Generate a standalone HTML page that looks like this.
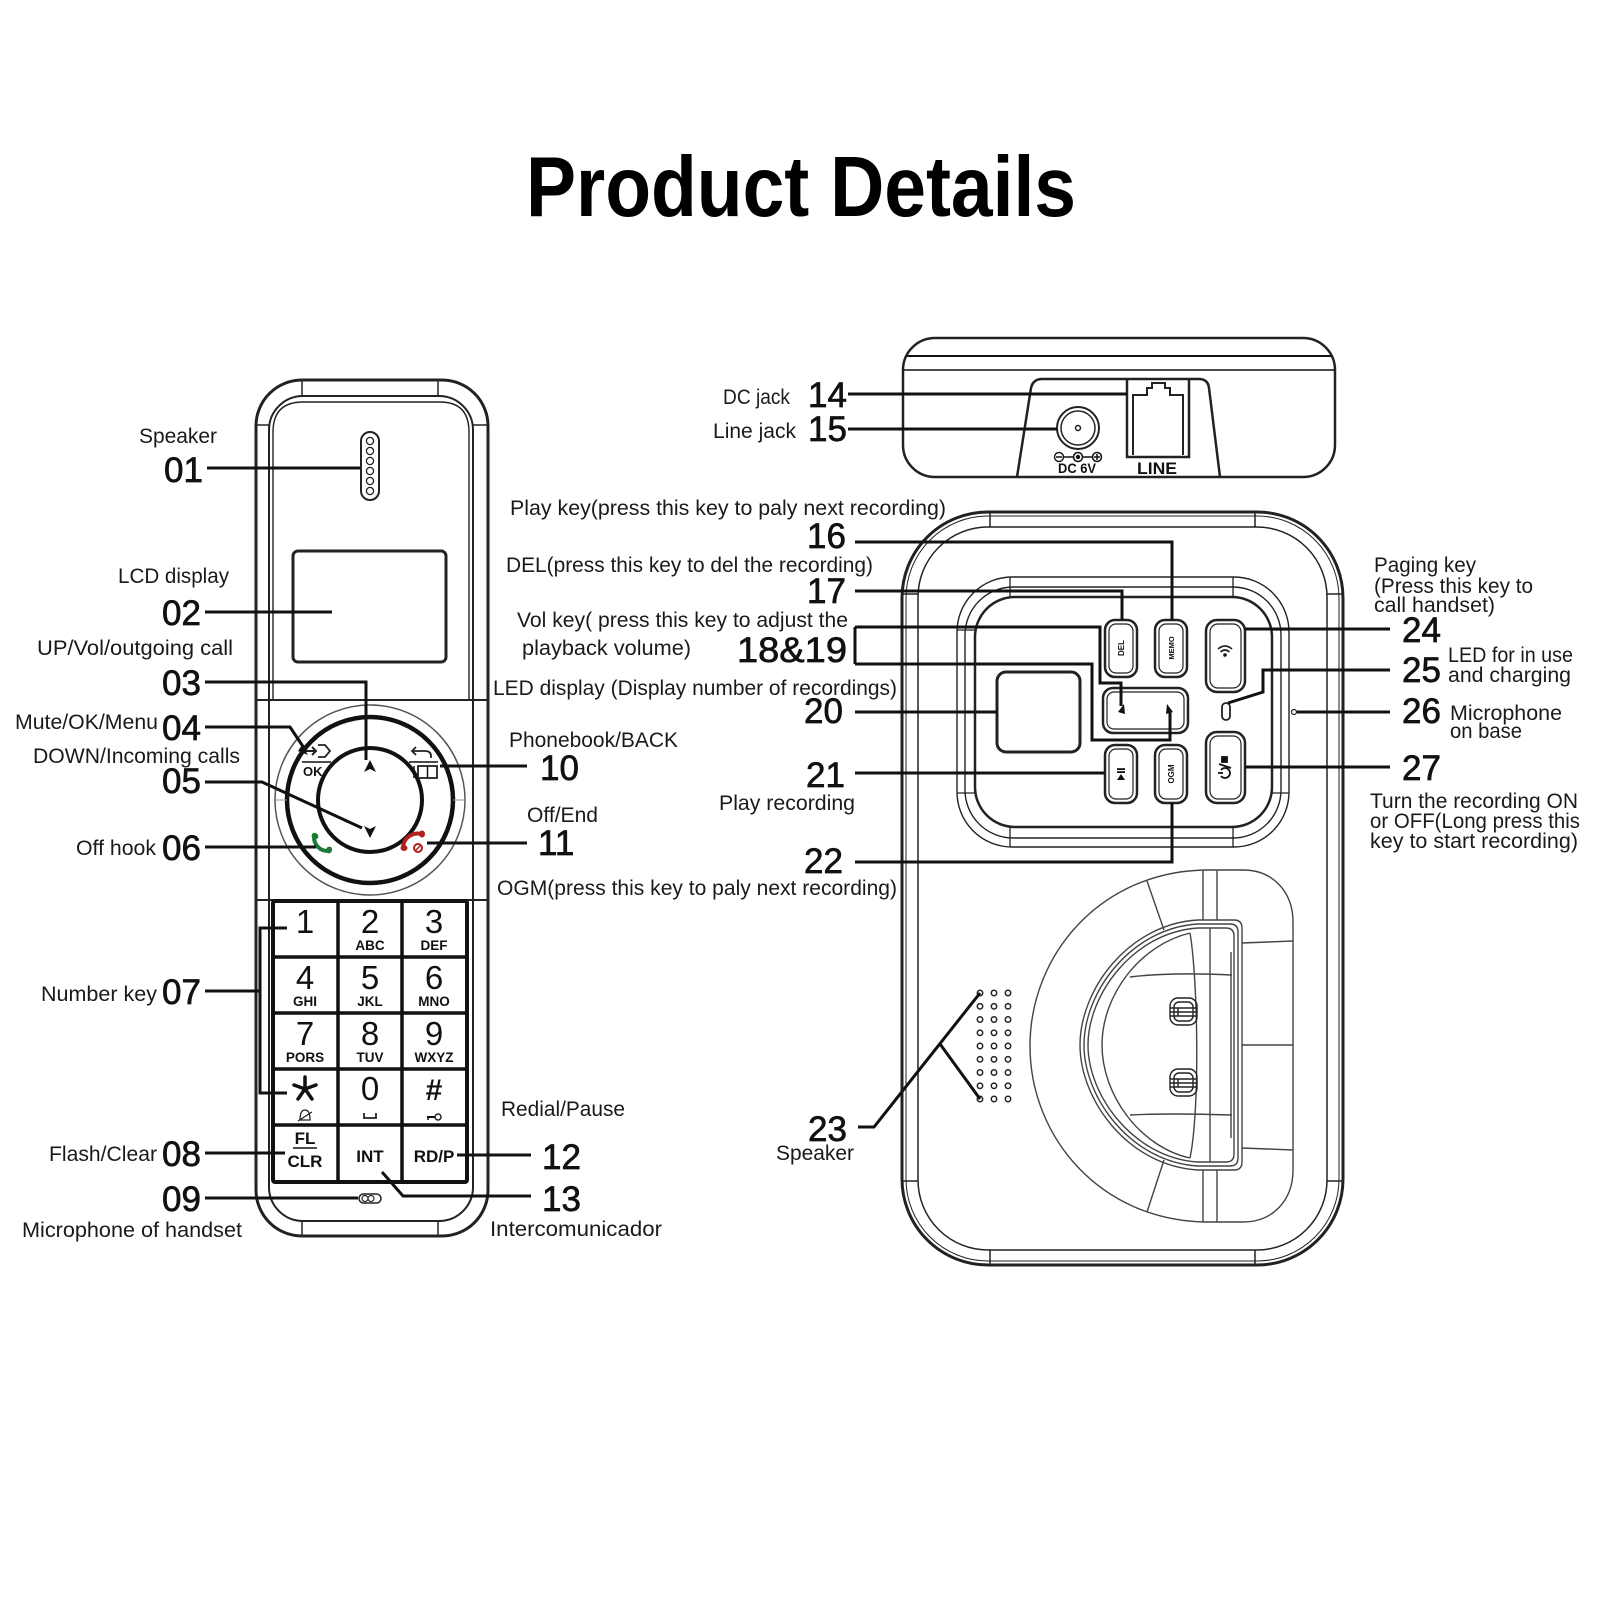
<!DOCTYPE html>
<html><head><meta charset="utf-8">
<style>
html,body{margin:0;padding:0;background:#fff;}
svg{display:block}
text{font-family:"Liberation Sans",Arial,sans-serif;}
.lb{font-size:21px;fill:#1a1a1a;}
.nm{font-size:35px;fill:#111;stroke:#111;stroke-width:0.7px;}
.ln{stroke:#111;stroke-width:3;fill:none;}
.o{fill:none;stroke:#222;}
.t{fill:none;stroke:#444;stroke-width:1.4;}
.kd{font-size:33px;fill:#111;text-anchor:middle;}
.kl{font-size:13.5px;font-weight:bold;fill:#111;text-anchor:middle;}
.kb{font-size:17px;font-weight:bold;fill:#111;text-anchor:middle;}
</style></head><body>
<svg width="1600" height="1600" viewBox="0 0 1600 1600" xmlns="http://www.w3.org/2000/svg">
<rect width="1600" height="1600" fill="#fff"/>

<!-- TITLE -->
<text x="526" y="216" font-size="85" font-weight="bold" fill="#000" textLength="550" lengthAdjust="spacingAndGlyphs">Product Details</text>

<!-- ================= HANDSET ================= -->
<rect x="256" y="380" width="232" height="856" rx="46" class="o" stroke-width="3"/>
<rect x="269" y="396" width="204" height="825" rx="34" class="o" stroke-width="2"/>
<path d="M273,700 V432 Q273,402 303,402 H440 Q469,402 469,432 V700" class="o" stroke-width="1.4"/>
<line x1="302" y1="380" x2="302" y2="396" class="o" stroke-width="1.5"/>
<line x1="438" y1="380" x2="438" y2="396" class="o" stroke-width="1.5"/>
<line x1="256" y1="425" x2="269" y2="425" class="o" stroke-width="1.5"/>
<line x1="473" y1="425" x2="488" y2="425" class="o" stroke-width="1.5"/>
<line x1="302" y1="1221" x2="302" y2="1236" class="o" stroke-width="1.5"/>
<line x1="438" y1="1221" x2="438" y2="1236" class="o" stroke-width="1.5"/>
<line x1="256" y1="700" x2="488" y2="700" class="o" stroke-width="2"/>
<line x1="256" y1="900" x2="488" y2="900" class="o" stroke-width="2"/>

<!-- speaker slot -->
<rect x="361" y="432" width="18" height="68" rx="9" class="o" stroke-width="2"/>
<g class="o" stroke-width="1.3">
<circle cx="370" cy="441" r="3.6"/><circle cx="370" cy="451" r="3.6"/><circle cx="370" cy="461" r="3.6"/>
<circle cx="370" cy="471" r="3.6"/><circle cx="370" cy="481" r="3.6"/><circle cx="370" cy="491" r="3.6"/>
</g>

<!-- LCD -->
<rect x="293" y="551" width="153" height="111" rx="5" class="o" stroke="#111" stroke-width="3"/>

<!-- Nav -->
<circle cx="370" cy="800" r="95" fill="none" stroke="#555" stroke-width="1.5"/>
<circle cx="370" cy="800" r="83" fill="none" stroke="#111" stroke-width="4.5"/>
<circle cx="370" cy="800" r="52" fill="none" stroke="#111" stroke-width="4"/>
<line x1="276" y1="800" x2="287" y2="800" stroke="#999" stroke-width="1"/>
<line x1="453" y1="800" x2="464" y2="800" stroke="#999" stroke-width="1"/>
<path d="M370,760 L376,772 L370,769 L364,772 Z" fill="#111"/>
<path d="M370,838 L376,826 L370,829 L364,826 Z" fill="#111"/>
<!-- OK icon -->
<path d="M304,751 H316 M312,747 L316,751 L312,755" class="o" stroke="#111" stroke-width="2"/>
<path d="M318,745 H325 L330,751 L325,757 H318" class="o" stroke="#111" stroke-width="1.8"/>
<line x1="302" y1="762" x2="331" y2="762" stroke="#111" stroke-width="1.5"/>
<text x="303" y="776" font-size="13" font-weight="bold" fill="#111">OK</text>
<!-- back / book icon -->
<path d="M416,747 L412,751 L416,755 M412,751 H425 Q431,751 431,756 V758" class="o" stroke="#111" stroke-width="1.8"/>
<line x1="409" y1="762" x2="438" y2="762" stroke="#111" stroke-width="1.5"/>
<rect x="418" y="766" width="19" height="12" class="o" stroke="#111" stroke-width="1.8"/>
<line x1="427.5" y1="766" x2="427.5" y2="778" stroke="#111" stroke-width="1.5"/>
<line x1="414" y1="766" x2="414" y2="778" stroke="#111" stroke-width="1.5"/>
<!-- green phone -->
<g transform="translate(322,842)">
<path d="M-8,-5 C-8,3 -2,9 6,9" stroke="#1d7a35" stroke-width="4" fill="none" stroke-linecap="round"/>
<ellipse cx="-7" cy="-6" rx="3.5" ry="3" fill="#1d7a35" transform="rotate(30 -7 -6)"/>
<ellipse cx="7" cy="8" rx="3" ry="3.5" fill="#1d7a35" transform="rotate(30 7 8)"/>
</g>
<!-- red phone -->
<g transform="translate(413,841)">
<path d="M-10,6 C-9,-4 0,-9 9,-7" stroke="#b0201c" stroke-width="4" fill="none" stroke-linecap="round"/>
<ellipse cx="-9" cy="7" rx="3.5" ry="3" fill="#b0201c"/>
<ellipse cx="9" cy="-7" rx="3" ry="3.5" fill="#b0201c"/>
<circle cx="5" cy="7" r="4" fill="#fff" stroke="#b0201c" stroke-width="2"/>
<line x1="3" y1="9" x2="7" y2="5" stroke="#b0201c" stroke-width="1.5"/>
</g>

<!-- keypad -->
<rect x="273" y="901" width="194" height="281" fill="#fff" stroke="#111" stroke-width="4" rx="2"/>
<g stroke="#111" stroke-width="3.5">
<line x1="338" y1="901" x2="338" y2="1182"/><line x1="402" y1="901" x2="402" y2="1182"/>
<line x1="273" y1="957" x2="467" y2="957"/><line x1="273" y1="1013" x2="467" y2="1013"/>
<line x1="273" y1="1069" x2="467" y2="1069"/><line x1="273" y1="1125" x2="467" y2="1125"/>
</g>
<text class="kd" x="305" y="933">1</text>
<text class="kd" x="370" y="933">2</text><text class="kl" x="370" y="950">ABC</text>
<text class="kd" x="434" y="933">3</text><text class="kl" x="434" y="950">DEF</text>
<text class="kd" x="305" y="989">4</text><text class="kl" x="305" y="1006">GHI</text>
<text class="kd" x="370" y="989">5</text><text class="kl" x="370" y="1006">JKL</text>
<text class="kd" x="434" y="989">6</text><text class="kl" x="434" y="1006">MNO</text>
<text class="kd" x="305" y="1045">7</text><text class="kl" x="305" y="1062">PORS</text>
<text class="kd" x="370" y="1045">8</text><text class="kl" x="370" y="1062">TUV</text>
<text class="kd" x="434" y="1045">9</text><text class="kl" x="434" y="1062">WXYZ</text>
<g stroke="#111" stroke-width="3.5" stroke-linecap="round">
<line x1="305" y1="1089" x2="305" y2="1077"/>
<line x1="305" y1="1089" x2="316" y2="1085"/>
<line x1="305" y1="1089" x2="294" y2="1085"/>
<line x1="305" y1="1089" x2="312" y2="1099"/>
<line x1="305" y1="1089" x2="298" y2="1099"/>
</g>
<path d="M300,1120 Q300,1110 305,1110 Q310,1110 310,1120 Z M298,1121 L312,1112" class="o" stroke="#111" stroke-width="1.3"/>
<text class="kd" x="370" y="1100">0</text>
<path d="M364,1113 V1118 H376 V1113" class="o" stroke="#111" stroke-width="1.8"/>
<text x="434" y="1100" font-size="30" font-weight="bold" fill="#111" text-anchor="middle">#</text>
<line x1="427" y1="1117" x2="435" y2="1117" stroke="#111" stroke-width="2"/>
<line x1="428" y1="1117" x2="428" y2="1120" stroke="#111" stroke-width="1.5"/>
<circle cx="438" cy="1117" r="3" class="o" stroke="#111" stroke-width="1.5"/>
<text class="kb" x="305" y="1144" font-size="16">FL</text>
<line x1="293" y1="1148" x2="317" y2="1148" stroke="#111" stroke-width="1.5"/>
<text class="kb" x="305" y="1167" font-size="16">CLR</text>
<text class="kb" x="370" y="1162">INT</text>
<text class="kb" x="434" y="1162">RD/P</text>

<!-- mic handset -->
<rect x="359" y="1194" width="22" height="9" rx="4.5" class="o" stroke="#111" stroke-width="1.5"/>
<circle cx="365" cy="1198.5" r="3" class="o" stroke="#111" stroke-width="1.2"/>
<circle cx="371" cy="1198.5" r="3" class="o" stroke="#111" stroke-width="1.2"/>

<!-- handset leader lines -->
<g class="ln">
<polyline points="207,468 360,468"/>
<polyline points="205,612 332,612"/>
<polyline points="205,682 366,682 366,760"/>
<polyline points="205,727 290,727 306,751"/>
<polyline points="205,782 262,782 362,828"/>
<polyline points="205,847 316,847"/>
<polyline points="205,991 260,991"/>
<polyline points="287,928 260,928 260,1093 287,1093"/>
<polyline points="205,1153 285,1153"/>
<polyline points="205,1198 358,1198"/>
<polyline points="440,766 527,766"/>
<polyline points="427,843 527,843"/>
<polyline points="457,1155 531,1155"/>
<polyline points="382,1172 403,1196 531,1196"/>
</g>
<path d="M302,745 L308,755 L298,751 Z" fill="#111"/>

<!-- handset labels -->
<text class="lb" x="139" y="443" textLength="78" lengthAdjust="spacingAndGlyphs">Speaker</text>
<text class="nm" x="164" y="482">01</text>
<text class="lb" x="118" y="583" textLength="111" lengthAdjust="spacingAndGlyphs">LCD display</text>
<text class="nm" x="162" y="625">02</text>
<text class="lb" x="37" y="655" textLength="196" lengthAdjust="spacingAndGlyphs">UP/Vol/outgoing call</text>
<text class="nm" x="162" y="695">03</text>
<text class="lb" x="15" y="729" textLength="143" lengthAdjust="spacingAndGlyphs">Mute/OK/Menu</text>
<text class="nm" x="162" y="740">04</text>
<text class="lb" x="33" y="763" textLength="207" lengthAdjust="spacingAndGlyphs">DOWN/Incoming calls</text>
<text class="nm" x="162" y="793">05</text>
<text class="lb" x="76" y="855" textLength="80" lengthAdjust="spacingAndGlyphs">Off hook</text>
<text class="nm" x="162" y="860">06</text>
<text class="lb" x="41" y="1001" textLength="116" lengthAdjust="spacingAndGlyphs">Number key</text>
<text class="nm" x="162" y="1004">07</text>
<text class="lb" x="49" y="1161" textLength="108" lengthAdjust="spacingAndGlyphs">Flash/Clear</text>
<text class="nm" x="162" y="1166">08</text>
<text class="nm" x="162" y="1211">09</text>
<text class="lb" x="22" y="1237" textLength="220" lengthAdjust="spacingAndGlyphs">Microphone of handset</text>
<text class="lb" x="509" y="747" textLength="169" lengthAdjust="spacingAndGlyphs">Phonebook/BACK</text>
<text class="nm" x="540" y="780">10</text>
<text class="lb" x="527" y="822" textLength="71" lengthAdjust="spacingAndGlyphs">Off/End</text>
<text class="nm" x="538" y="855">11</text>
<text class="lb" x="501" y="1116" textLength="124" lengthAdjust="spacingAndGlyphs">Redial/Pause</text>
<text class="nm" x="542" y="1169">12</text>
<text class="nm" x="542" y="1211">13</text>
<text class="lb" x="490" y="1236" textLength="172" lengthAdjust="spacingAndGlyphs">Intercomunicador</text>

<!-- ================= BASE TOP (rear) ================= -->
<rect x="903" y="338" width="432" height="139" rx="32" class="o" stroke="#111" stroke-width="2.5"/>
<line x1="907" y1="356" x2="1331" y2="356" stroke="#111" stroke-width="2"/>
<line x1="903" y1="370" x2="1335" y2="370" stroke="#111" stroke-width="1.5"/>
<path d="M1017,477 L1031,388 Q1033,379 1042,379 L1199,379 Q1208,379 1209,388 L1220,477" class="o" stroke="#111" stroke-width="2.5"/>
<circle cx="1078" cy="428" r="21" class="o" stroke="#111" stroke-width="2"/>
<circle cx="1078" cy="428" r="17" class="o" stroke="#111" stroke-width="1.5"/>
<circle cx="1078" cy="428" r="2.5" class="o" stroke="#111" stroke-width="1.5"/>
<circle cx="1059" cy="457" r="4.5" class="o" stroke="#111" stroke-width="1.5"/>
<line x1="1056" y1="457" x2="1062" y2="457" stroke="#111" stroke-width="1.5"/>
<line x1="1063" y1="457" x2="1093" y2="457" stroke="#111" stroke-width="1.5"/>
<circle cx="1078" cy="457" r="4.5" fill="#fff" stroke="#111" stroke-width="1.5"/>
<circle cx="1078" cy="457" r="2.2" fill="#111"/>
<circle cx="1097" cy="457" r="4.5" fill="#fff" stroke="#111" stroke-width="1.5"/>
<line x1="1094" y1="457" x2="1100" y2="457" stroke="#111" stroke-width="1.5"/>
<line x1="1097" y1="454" x2="1097" y2="460" stroke="#111" stroke-width="1.5"/>
<text x="1058" y="473" font-size="14" font-weight="bold" fill="#111" textLength="38" lengthAdjust="spacingAndGlyphs">DC 6V</text>
<path d="M1127,380 V457 H1189 V380" class="o" stroke="#111" stroke-width="2.5"/>
<path d="M1133,455 V395 H1147 V388 H1152 V383 H1165 V388 H1170 V395 H1183 V455" class="o" stroke="#111" stroke-width="2"/>
<text x="1137" y="474" font-size="17" font-weight="bold" fill="#111" textLength="40" lengthAdjust="spacingAndGlyphs">LINE</text>

<!-- ================= BASE BODY ================= -->
<rect x="902" y="512" width="441" height="753" rx="86" class="o" stroke="#111" stroke-width="3"/>
<rect x="906" y="516" width="433" height="745" rx="82" class="o" stroke-width="1"/>
<rect x="918" y="527" width="409" height="723" rx="70" class="o" stroke-width="1.5"/>
<g class="o" stroke-width="1.5">
<line x1="990" y1="512" x2="990" y2="527"/><line x1="1255" y1="512" x2="1255" y2="527"/>
<line x1="990" y1="1250" x2="990" y2="1265"/><line x1="1255" y1="1250" x2="1255" y2="1265"/>
<line x1="902" y1="594" x2="918" y2="594"/><line x1="1327" y1="594" x2="1343" y2="594"/>
<line x1="902" y1="1181" x2="918" y2="1181"/><line x1="1327" y1="1181" x2="1343" y2="1181"/>
</g>

<!-- panel -->
<rect x="957" y="577" width="332" height="270" rx="55" class="o" stroke-width="1.4"/>
<rect x="965" y="587" width="316" height="251" rx="48" class="o" stroke-width="1.4"/>
<rect x="975" y="597" width="297" height="230" rx="40" class="o" stroke="#111" stroke-width="2.5"/>
<g class="o" stroke-width="1.3">
<line x1="1010" y1="577" x2="1010" y2="597"/><line x1="1233" y1="577" x2="1233" y2="597"/>
<line x1="1010" y1="827" x2="1010" y2="847"/><line x1="1233" y1="827" x2="1233" y2="847"/>
<line x1="957" y1="630" x2="975" y2="630"/><line x1="957" y1="793" x2="975" y2="793"/>
<line x1="1272" y1="630" x2="1289" y2="630"/><line x1="1272" y1="793" x2="1289" y2="793"/>
</g>

<!-- LED display -->
<rect x="997" y="672" width="83" height="80" rx="9" class="o" stroke="#111" stroke-width="3"/>

<!-- buttons -->
<g class="o" stroke="#111">
<rect x="1105" y="620" width="32" height="57" rx="10" stroke-width="2.5"/>
<rect x="1109" y="624" width="24" height="49" rx="7" stroke-width="1.2"/>
<rect x="1155" y="620" width="32" height="57" rx="10" stroke-width="2.5"/>
<rect x="1159" y="624" width="24" height="49" rx="7" stroke-width="1.2"/>
<rect x="1206" y="620" width="39" height="72" rx="11" stroke-width="2.5"/>
<rect x="1210" y="624" width="31" height="64" rx="8" stroke-width="1.2"/>
<rect x="1103" y="688" width="85" height="45" rx="10" stroke-width="2.5"/>
<rect x="1107" y="692" width="77" height="37" rx="7" stroke-width="1.2"/>
<rect x="1105" y="745" width="32" height="58" rx="10" stroke-width="2.5"/>
<rect x="1109" y="749" width="24" height="50" rx="7" stroke-width="1.2"/>
<rect x="1155" y="745" width="32" height="58" rx="10" stroke-width="2.5"/>
<rect x="1159" y="749" width="24" height="50" rx="7" stroke-width="1.2"/>
<rect x="1206" y="732" width="39" height="71" rx="11" stroke-width="2.5"/>
<rect x="1210" y="736" width="31" height="63" rx="8" stroke-width="1.2"/>
<rect x="1222" y="703" width="8" height="17" rx="4" stroke-width="1.8"/>
<circle cx="1294" cy="712" r="2.5" stroke-width="1.2"/>
</g>
<text x="0" y="0" font-size="8" font-weight="bold" fill="#111" text-anchor="middle" transform="translate(1124,648) rotate(-90)">DEL</text>
<text x="0" y="0" font-size="7.5" font-weight="bold" fill="#111" text-anchor="middle" transform="translate(1174,648) rotate(-90)">MEMO</text>
<text x="0" y="0" font-size="8" font-weight="bold" fill="#111" text-anchor="middle" transform="translate(1174,774) rotate(-90)">OGM</text>
<!-- play/pause rotated -->
<g transform="translate(1121,774) rotate(-90)" fill="#111">
<path d="M-6,-4 L0,0 L-6,4 Z"/><rect x="1" y="-4" width="1.8" height="8"/><rect x="4" y="-4" width="1.8" height="8"/>
</g>
<!-- wifi -->
<g transform="translate(1225,652)" class="o" stroke="#111" stroke-width="1.6">
<path d="M-7,-3 Q0,-9 7,-3"/><path d="M-4.5,0 Q0,-4 4.5,0"/>
</g>
<circle cx="1225" cy="655" r="1.8" fill="#111"/>
<!-- power/stop rotated -->
<g transform="translate(1225,767) rotate(-90)" stroke="#111" fill="none" stroke-width="1.8">
<path d="M-9,-4 A5,5 0 1 0 -3,-4"/><line x1="-6" y1="-7" x2="-6" y2="-2"/>
<line x1="-1" y1="6" x2="3" y2="-6"/>
<rect x="5" y="-3" width="5" height="5" fill="#111"/>
</g>
<!-- arrow key heads -->
<path d="M1118,712 L1124,704 L1125,714 Z" fill="#111"/>
<path d="M1173,712 L1167,704 L1166,714 Z" fill="#111"/>

<!-- speaker grid -->
<g class="o" stroke="#111" stroke-width="1.5">
<circle cx="980" cy="993" r="2.7"/><circle cx="994" cy="993" r="2.7"/><circle cx="1008" cy="993" r="2.7"/>
<circle cx="980" cy="1006.3" r="2.7"/><circle cx="994" cy="1006.3" r="2.7"/><circle cx="1008" cy="1006.3" r="2.7"/>
<circle cx="980" cy="1019.5" r="2.7"/><circle cx="994" cy="1019.5" r="2.7"/><circle cx="1008" cy="1019.5" r="2.7"/>
<circle cx="980" cy="1032.8" r="2.7"/><circle cx="994" cy="1032.8" r="2.7"/><circle cx="1008" cy="1032.8" r="2.7"/>
<circle cx="980" cy="1046" r="2.7"/><circle cx="994" cy="1046" r="2.7"/><circle cx="1008" cy="1046" r="2.7"/>
<circle cx="980" cy="1059.3" r="2.7"/><circle cx="994" cy="1059.3" r="2.7"/><circle cx="1008" cy="1059.3" r="2.7"/>
<circle cx="980" cy="1072.5" r="2.7"/><circle cx="994" cy="1072.5" r="2.7"/><circle cx="1008" cy="1072.5" r="2.7"/>
<circle cx="980" cy="1085.8" r="2.7"/><circle cx="994" cy="1085.8" r="2.7"/><circle cx="1008" cy="1085.8" r="2.7"/>
<circle cx="980" cy="1099" r="2.7"/><circle cx="994" cy="1099" r="2.7"/><circle cx="1008" cy="1099" r="2.7"/>
</g>

<!-- cradle -->
<g class="t">
<path d="M1205,870 C1100,872 1030,955 1030,1046 C1030,1137 1100,1220 1205,1222 L1243,1222 C1273,1222 1293,1200 1293,1170 L1293,922 C1293,892 1273,870 1243,870 Z"/>
<path d="M1234,920 L1198,920 C1128,924 1080,990 1080,1045 C1080,1100 1128,1166 1198,1170 L1234,1170 Q1242,1170 1242,1162 L1242,928 Q1242,920 1234,920 Z"/>
<path d="M1230,924 L1198,924 C1131,928 1084,992 1084,1045 C1084,1098 1131,1162 1198,1166 L1230,1166 Q1238,1166 1238,1158 L1238,932 Q1238,924 1230,924 Z"/>
<path d="M1226,928 L1198,928 C1134,932 1088,994 1088,1045 C1088,1096 1134,1158 1198,1162 L1226,1162 Q1234,1162 1234,1154 L1234,936 Q1234,928 1226,928 Z"/>
<path d="M1190,933 C1140,945 1102,995 1102,1045 C1102,1095 1140,1147 1190,1158"/>
<path d="M1190,933 C1198,980 1200,1110 1190,1158"/>
<line x1="1210" y1="928" x2="1210" y2="1162"/>
<line x1="1231" y1="952" x2="1231" y2="1138"/>
<path d="M1130,977 Q1170,972 1232,975"/>
<path d="M1130,1115 Q1170,1113 1232,1115"/>
<line x1="1203" y1="870" x2="1203" y2="920"/><line x1="1217" y1="870" x2="1217" y2="920"/>
<line x1="1203" y1="1170" x2="1203" y2="1222"/><line x1="1217" y1="1170" x2="1217" y2="1222"/>
<line x1="1147" y1="881" x2="1164" y2="930"/>
<line x1="1164" y1="1160" x2="1147" y2="1212"/>
<line x1="1242" y1="943" x2="1293" y2="941"/>
<line x1="1242" y1="1045" x2="1293" y2="1045"/>
<line x1="1242" y1="1148" x2="1293" y2="1150"/>
</g>
<!-- contacts -->
<g class="o" stroke="#333" stroke-width="1.4">
<rect x="1170" y="998" width="27" height="27" rx="8"/>
<rect x="1174" y="1002" width="19" height="19" rx="5"/>
<line x1="1170" y1="1008" x2="1197" y2="1008"/><line x1="1170" y1="1012" x2="1197" y2="1012"/>
<line x1="1170" y1="1016" x2="1197" y2="1016"/><line x1="1178" y1="1008" x2="1178" y2="1016"/>
<rect x="1170" y="1069" width="27" height="27" rx="8"/>
<rect x="1174" y="1073" width="19" height="19" rx="5"/>
<line x1="1170" y1="1079" x2="1197" y2="1079"/><line x1="1170" y1="1083" x2="1197" y2="1083"/>
<line x1="1170" y1="1087" x2="1197" y2="1087"/><line x1="1178" y1="1079" x2="1178" y2="1087"/>
</g>

<!-- base leader lines -->
<g class="ln">
<polyline points="848,394 1127,394"/>
<polyline points="848,429 1057,429"/>
<polyline points="855,542 1172,542 1172,620"/>
<polyline points="855,591 1122,591 1122,620"/>
<polyline points="855,627 855,664"/>
<polyline points="855,627 1100,627 1100,683 1121,683 1121,706"/>
<polyline points="855,664 1092,664 1092,740 1170,740 1170,712"/>
<polyline points="855,712 997,712"/>
<polyline points="855,773 1105,773"/>
<polyline points="855,862 1172,862 1172,803"/>
<polyline points="1245,629 1390,629"/>
<polyline points="1228,703 1263,692 1263,670 1390,670"/>
<polyline points="1297,712 1390,712"/>
<polyline points="1245,767 1390,767"/>
<polyline points="858,1127 874,1127 980,993"/>
<polyline points="940,1044 980,1099"/>
</g>

<!-- base labels -->
<text class="lb" x="723" y="404" textLength="67" lengthAdjust="spacingAndGlyphs">DC jack</text>
<text class="nm" x="808" y="407">14</text>
<text class="lb" x="713" y="438" textLength="83" lengthAdjust="spacingAndGlyphs">Line jack</text>
<text class="nm" x="808" y="441">15</text>
<text class="lb" x="510" y="515" textLength="436" lengthAdjust="spacingAndGlyphs">Play key(press this key to paly next recording)</text>
<text class="nm" x="807" y="548">16</text>
<text class="lb" x="506" y="572" textLength="367" lengthAdjust="spacingAndGlyphs">DEL(press this key to del the recording)</text>
<text class="nm" x="807" y="603">17</text>
<text class="lb" x="517" y="627" textLength="331" lengthAdjust="spacingAndGlyphs">Vol key( press this key to adjust the</text>
<text class="lb" x="522" y="655" textLength="169" lengthAdjust="spacingAndGlyphs">playback volume)</text>
<text class="nm" x="737" y="662" textLength="110" lengthAdjust="spacingAndGlyphs">18&amp;19</text>
<text class="lb" x="493" y="695" textLength="404" lengthAdjust="spacingAndGlyphs">LED display (Display number of recordings)</text>
<text class="nm" x="804" y="723">20</text>
<text class="nm" x="806" y="787">21</text>
<text class="lb" x="719" y="810" textLength="136" lengthAdjust="spacingAndGlyphs">Play recording</text>
<text class="nm" x="804" y="873">22</text>
<text class="lb" x="497" y="895" textLength="400" lengthAdjust="spacingAndGlyphs">OGM(press this key to paly next recording)</text>
<text class="nm" x="808" y="1141">23</text>
<text class="lb" x="776" y="1160" textLength="78" lengthAdjust="spacingAndGlyphs">Speaker</text>

<text class="lb" x="1374" y="572" textLength="102" lengthAdjust="spacingAndGlyphs">Paging key</text>
<text class="lb" x="1374" y="593" textLength="159" lengthAdjust="spacingAndGlyphs">(Press this key to</text>
<text class="lb" x="1374" y="612" textLength="121" lengthAdjust="spacingAndGlyphs">call handset)</text>
<text class="nm" x="1402" y="642">24</text>
<text class="lb" x="1448" y="662" textLength="125" lengthAdjust="spacingAndGlyphs">LED for in use</text>
<text class="nm" x="1402" y="682">25</text>
<text class="lb" x="1448" y="682" textLength="123" lengthAdjust="spacingAndGlyphs">and charging</text>
<text class="nm" x="1402" y="723">26</text>
<text class="lb" x="1450" y="720" textLength="112" lengthAdjust="spacingAndGlyphs">Microphone</text>
<text class="lb" x="1450" y="738" textLength="72" lengthAdjust="spacingAndGlyphs">on base</text>
<text class="nm" x="1402" y="780">27</text>
<text class="lb" x="1370" y="808" textLength="208" lengthAdjust="spacingAndGlyphs">Turn the recording ON</text>
<text class="lb" x="1370" y="828" textLength="210" lengthAdjust="spacingAndGlyphs">or OFF(Long press this</text>
<text class="lb" x="1370" y="848" textLength="208" lengthAdjust="spacingAndGlyphs">key to start recording)</text>
</svg>
</body></html>
